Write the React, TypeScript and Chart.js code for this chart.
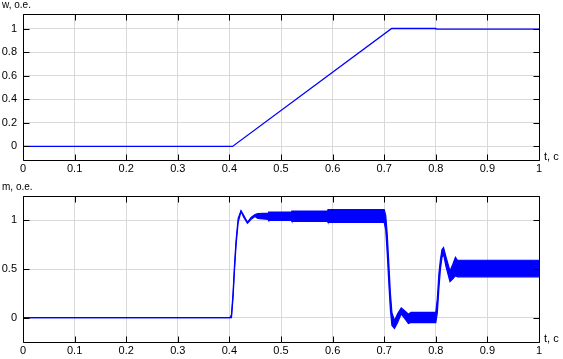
import { useEffect, useRef } from "react";
import { Chart, registerables } from "chart.js";
Chart.register(...registerables);

// ---- data ----
const wTime = [0, 0.406, 0.7145, 0.8, 0.8005, 1.0];
const wValue = [0, 0, 1.002, 1.002, 0.996, 0.996];

const mTime = [
  0, 0.401, 0.404, 0.407, 0.41, 0.413, 0.417, 0.4225, 0.428, 0.435, 0.442, 0.4496,
  0.455, 0.475, 0.476, 0.52, 0.521, 0.59, 0.591, 0.7, 0.703, 0.706, 0.709, 0.712,
  0.715, 0.72, 0.726, 0.733, 0.74, 0.747, 0.752, 0.8, 0.803, 0.806, 0.809, 0.812,
  0.815, 0.82, 0.8275, 0.833, 0.838, 0.842, 1.0,
];
const mUpper = [
  0, 0, 0.03, 0.25, 0.55, 0.8, 1.02, 1.1, 1.05, 0.98, 1.03, 1.06,
  1.07, 1.075, 1.085, 1.085, 1.095, 1.095, 1.11, 1.11, 1.05, 0.85, 0.55, 0.25,
  0.05, -0.03, 0.04, 0.1, 0.07, 0.035, 0.055, 0.055, 0.2, 0.45, 0.6, 0.7,
  0.72, 0.62, 0.48, 0.55, 0.62, 0.59, 0.59,
];
const mLower = [
  0, 0, 0, 0.2, 0.5, 0.75, 0.98, 1.09, 1.03, 0.97, 1.01, 1.04,
  1.02, 1.01, 1.0, 1.0, 0.99, 0.99, 0.98, 0.98, 0.9, 0.65, 0.35, 0.08,
  -0.08, -0.11, -0.05, 0.04, -0.01, -0.06, -0.05, -0.05, 0.05, 0.3, 0.5, 0.62,
  0.65, 0.52, 0.37, 0.4, 0.43, 0.42, 0.42,
];

const xTicks = [0, 0.1, 0.2, 0.3, 0.4, 0.5, 0.6, 0.7, 0.8, 0.9, 1];
const xTickLabels = ["0", "0.1", "0.2", "0.3", "0.4", "0.5", "0.6", "0.7", "0.8", "0.9", "1"];
const wTicks = [0, 0.2, 0.4, 0.6, 0.8, 1];
const wTickLabels = ["0", "0.2", "0.4", "0.6", "0.8", "1"];
const mTicks = [0, 0.5, 1];
const mTickLabels = ["0", "0.5", "1"];

const FONT = "'Liberation Sans', Arial, sans-serif";
const BLUE = "#0000ff";

const framePlugin = {
  id: "frame",
  afterDraw(chart: any, _args: any, opts: any) {
    const { ctx, chartArea: a, scales } = chart;
    const al = (v: number) => Math.round(v) + 0.5;
    ctx.save();
    ctx.strokeStyle = "#000";
    ctx.lineWidth = 1;
    const L = al(a.left), R = al(a.right), T = al(a.top), B = al(a.bottom);
    ctx.beginPath();
    ctx.rect(L, T, R - L, B - T);
    const tl = 6;
    for (const t of scales.x.ticks) {
      const px = al(scales.x.getPixelForValue(t.value));
      ctx.moveTo(px, T); ctx.lineTo(px, T + tl);
      ctx.moveTo(px, B); ctx.lineTo(px, B - tl);
    }
    for (const t of scales.y.ticks) {
      const py = al(scales.y.getPixelForValue(t.value));
      ctx.moveTo(L, py); ctx.lineTo(L + tl, py);
      ctx.moveTo(R, py); ctx.lineTo(R - tl, py);
    }
    ctx.stroke();
    ctx.fillStyle = "#000";
    ctx.font = "10px " + FONT;
    ctx.textBaseline = "middle";
    ctx.textAlign = "left";
    ctx.fillText(opts.yTitle, 2, a.top - 9);
    ctx.font = "11px " + FONT;
    ctx.fillText(opts.xTitle, a.right + 5, a.bottom - 3);
    ctx.restore();
  },
};

function makeChart(
  canvas: HTMLCanvasElement,
  datasets: any[],
  yMin: number,
  yMax: number,
  yTicks: number[],
  yLabels: string[],
  padTop: number,
  xHeight: number,
  yTitle: string
) {
  return new Chart(canvas, {
    type: "line",
    data: { datasets },
    plugins: [framePlugin],
    options: {
      responsive: false,
      animation: false,
      devicePixelRatio: 1,
      layout: { padding: { top: padTop, right: 24, left: 0, bottom: 0 } },
      plugins: {
        legend: { display: false },
        tooltip: { enabled: false },
        frame: { yTitle, xTitle: "t, c" },
      } as any,
      elements: { point: { radius: 0 }, line: { tension: 0 } },
      scales: {
        x: {
          type: "linear",
          min: 0,
          max: 1,
          afterBuildTicks: (s: any) => {
            s.ticks = xTicks.map((v) => ({ value: v }));
          },
          afterFit: (s: any) => {
            s.height = xHeight;
          },
          ticks: {
            autoSkip: false,
            maxRotation: 0,
            minRotation: 0,
            padding: 2,
            color: "#000",
            font: { family: FONT, size: 11 },
            callback: (_v: any, i: number) => xTickLabels[i],
          },
          grid: { color: "#d9d9d9", drawTicks: false },
          border: { display: false },
        },
        y: {
          type: "linear",
          min: yMin,
          max: yMax,
          afterBuildTicks: (s: any) => {
            s.ticks = yTicks.map((v) => ({ value: v }));
          },
          afterFit: (s: any) => {
            s.width = 23;
          },
          ticks: {
            padding: 6,
            color: "#000",
            font: { family: FONT, size: 11 },
            callback: (_v: any, i: number) => yLabels[i],
          },
          grid: { color: "#d9d9d9", drawTicks: false },
          border: { display: false },
        },
      },
    },
  } as any);
}

export default function App() {
  const c1 = useRef<HTMLCanvasElement>(null);
  const c2 = useRef<HTMLCanvasElement>(null);
  useEffect(() => {
    const ch1 = makeChart(
      c1.current!,
      [
        {
          data: wTime.map((t, i) => ({ x: t, y: wValue[i] })),
          borderColor: BLUE,
          borderWidth: 1.3,
          fill: false,
        },
      ],
      -0.115,
      1.125,
      wTicks,
      wTickLabels,
      14,
      20,
      "w, o.e."
    );
    const ch2 = makeChart(
      c2.current!,
      [
        {
          data: mTime.map((t, i) => ({ x: t, y: mUpper[i] })),
          borderColor: BLUE,
          borderWidth: 1.2,
          fill: false,
        },
        {
          data: mTime.map((t, i) => ({ x: t, y: mLower[i] })),
          borderColor: BLUE,
          borderWidth: 1.2,
          backgroundColor: BLUE,
          fill: "-1",
        },
      ],
      -0.25,
      1.25,
      mTicks,
      mTickLabels,
      16,
      17,
      "m, o.e."
    );
    return () => {
      ch1.destroy();
      ch2.destroy();
    };
  }, []);
  return (
    <div style={{ position: "absolute", left: 0, top: 0, width: 563, height: 359, background: "#fff" }}>
      <canvas ref={c1} width={563} height={180} style={{ position: "absolute", left: 0, top: 0, display: "block" }} />
      <canvas ref={c2} width={563} height={179} style={{ position: "absolute", left: 0, top: 180, display: "block" }} />
    </div>
  );
}
